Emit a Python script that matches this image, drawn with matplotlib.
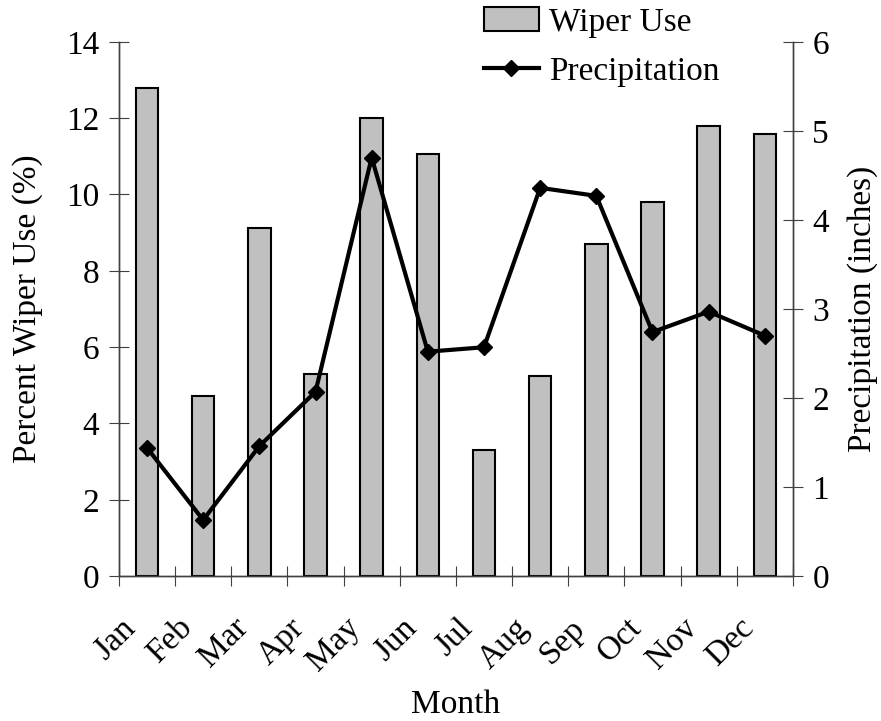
import numpy as np
import matplotlib.pyplot as plt
from matplotlib.ticker import FixedLocator, NullFormatter

months = ["Jan", "Feb", "Mar", "Apr", "May", "Jun",
          "Jul", "Aug", "Sep", "Oct", "Nov", "Dec"]
wiper_use = [12.79, 4.72, 9.12, 5.30, 12.01, 11.06,
             3.30, 5.24, 8.70, 9.81, 11.80, 11.58]
precip = [1.44, 0.63, 1.46, 2.07, 4.70, 2.52,
          2.57, 4.36, 4.27, 2.74, 2.97, 2.70]

plt.rcParams['font.family'] = ['Liberation Serif', 'DejaVu Serif']
plt.rcParams['font.size'] = 24

fig = plt.figure(figsize=(8.81, 7.21), dpi=100)
ax = fig.add_axes([0.135, 0.201, 0.765, 0.741])
ax2 = ax.twinx()

x = np.arange(len(months)) + 0.5
bars = ax.bar(x, wiper_use, width=0.4, color="#c0c0c0",
              edgecolor="black", linewidth=1.5, label="Wiper Use")
line, = ax2.plot(x, precip, color="black", linewidth=3, marker="D",
                 markersize=8, label="Precipitation")

ax.set_xlim(0, 12)
ax.set_ylim(0, 14)
ax2.set_ylim(0, 6)
ax.set_yticks(np.arange(0, 15, 2))
ax2.set_yticks(np.arange(0, 7, 1))

ax.xaxis.set_major_locator(FixedLocator(np.arange(0, 13)))
ax.xaxis.set_major_formatter(NullFormatter())
# month labels sit a little left of the category centre (excel style)
ax.xaxis.set_minor_locator(FixedLocator(x - 0.28))
ax.set_xticklabels(months, minor=True, rotation=45, ha="right",
                   va="center", rotation_mode="anchor")
ax.tick_params(axis="x", which="minor", length=0, pad=34)
ax.tick_params(axis="x", which="major", direction="inout", length=14,
               color="#404040")
ax.tick_params(axis="y", direction="inout", length=14, pad=7,
               color="#404040")
ax2.tick_params(axis="y", direction="inout", length=14, pad=7,
                color="#404040")

for a in (ax, ax2):
    a.spines["top"].set_visible(False)
    for s in ("left", "right", "bottom"):
        a.spines[s].set_color("#404040")
        a.spines[s].set_linewidth(1)

ax.set_ylabel("Percent Wiper Use (%)", labelpad=17)
ax2.set_ylabel("Precipitation (inches)", labelpad=13)
ax.set_xlabel("Month", labelpad=9)

fig.legend([bars, line], ["Wiper Use", "Precipitation"],
           loc="upper left", bbox_to_anchor=(0.549, 0.99), frameon=False,
           borderpad=0, borderaxespad=0,
           handlelength=1.65, handletextpad=0.3, labelspacing=0.55,
           fontsize=24)

fig.savefig("out.png", dpi=100)
